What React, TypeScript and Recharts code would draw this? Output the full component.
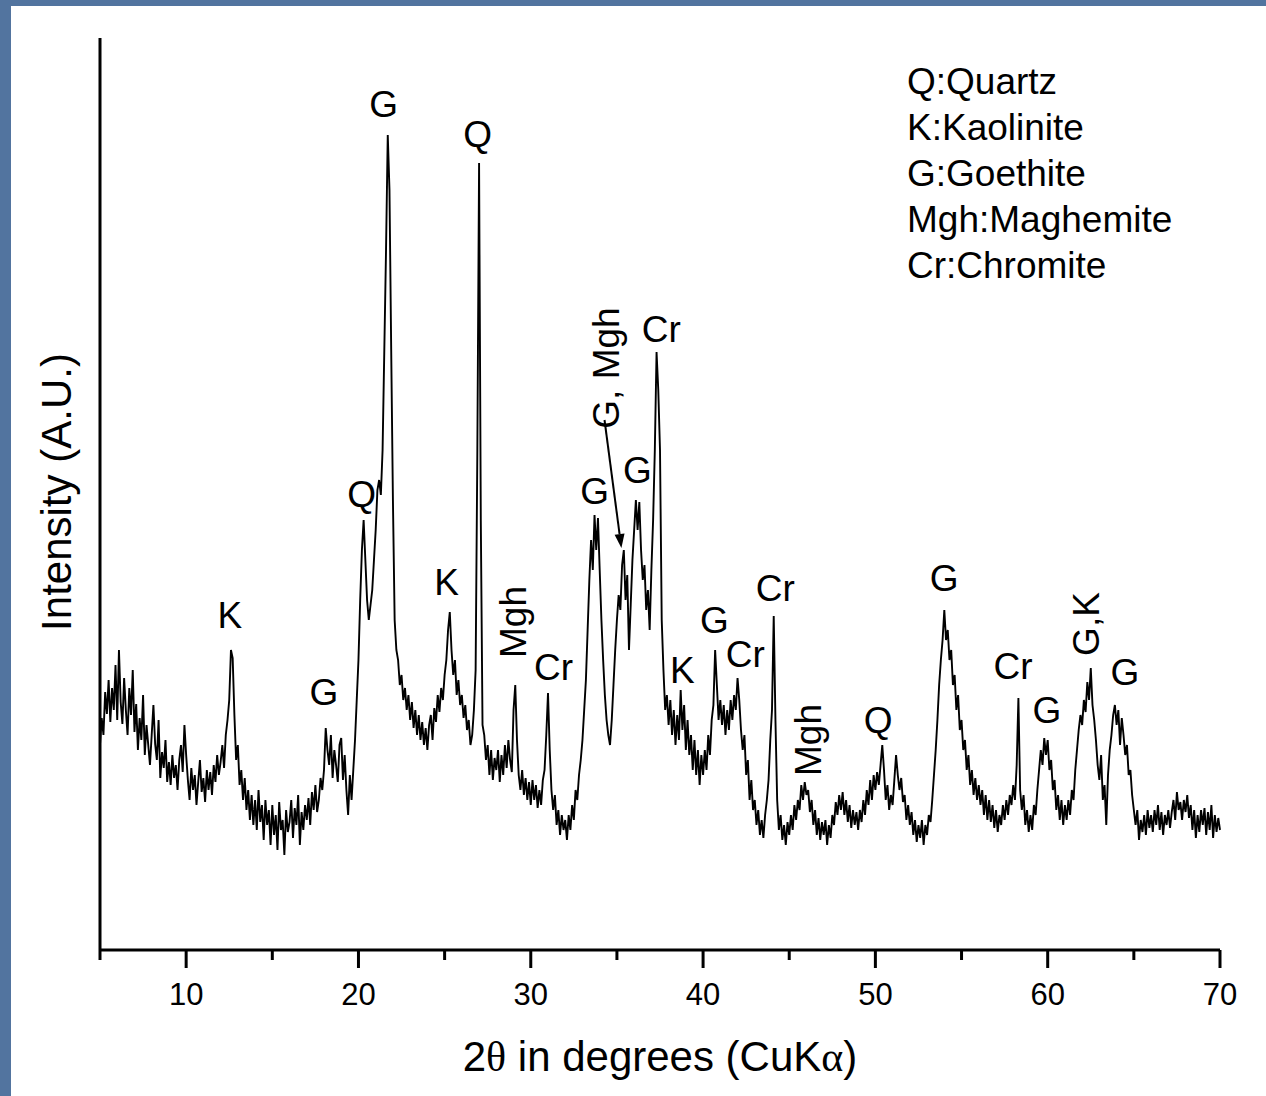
import React from "react";
import { LineChart, Line, XAxis, YAxis, ReferenceDot, ReferenceLine } from "recharts";

// intensity (A.U.) per 0.1 degree step
const SEG_05 = [
  205, 232, 215, 258, 236, 270, 228, 262, 240, 285,
  230, 300, 248, 226, 272, 240, 215, 262, 235, 280,
  218, 246, 200, 232, 210, 255, 195, 225, 205, 185,
  215, 245, 206, 190, 230, 172, 198, 182, 210, 168,
  188, 165, 195, 172, 185, 160, 190, 205, 178, 225,
  195, 170, 150, 182, 160, 175, 145, 168, 190, 158,
  172, 148, 180, 160, 178, 155, 185, 168, 195, 175,
  188, 205, 182, 215, 230, 250, 300, 292, 235, 190,
  205, 165, 180, 150, 172, 140, 160, 130, 155, 125,
  150, 120, 160, 128, 145, 110, 150, 125, 140, 105,
];
const SEG_15 = [
  145, 115, 135, 100, 148, 120, 130, 95, 140, 118,
  128, 150, 112, 142, 125, 155, 105, 138, 120, 145,
  130, 152, 125, 158, 140, 165, 138, 150, 172, 160,
  180, 222, 200, 185, 215, 172, 200, 185, 168, 205,
  212, 170, 195, 160, 135, 175, 150, 180, 210, 250,
  290, 350, 400, 430, 390, 350, 330, 345, 360, 390,
  420, 460, 470, 455, 500, 600, 700, 815, 760, 600,
  450, 330, 300, 290, 265, 275, 250, 262, 240, 255,
  230, 248, 222, 240, 215, 235, 210, 228, 205, 222,
  200, 225, 235, 210, 242, 228, 255, 238, 262, 250,
];
const SEG_25 = [
  275, 290, 320, 338, 300, 275, 290, 255, 270, 245,
  255, 232, 245, 220, 230, 205, 215, 240, 280, 500,
  787, 430, 225, 215, 190, 205, 175, 200, 170, 192,
  180, 200, 168, 195, 175, 205, 182, 210, 190, 178,
  240, 265, 210, 175, 160, 180, 155, 172, 150, 168,
  145, 170, 150, 165, 142, 160, 145, 170, 180, 215,
  257, 200, 160, 140, 155, 125, 140, 115, 135, 120,
  130, 110, 135, 120, 145, 130, 160, 150, 175, 190,
  210, 240, 270, 320, 370, 410, 380, 435, 400, 432,
  380, 330, 290, 255, 230, 215, 205, 230, 265, 300,
];
const SEG_35 = [
  330, 355, 340, 385, 400, 350, 375, 300, 345, 390,
  420, 450, 420, 448, 400, 370, 385, 340, 360, 320,
  380, 430, 500, 598, 560, 500, 330, 280, 240, 255,
  225, 250, 215, 240, 205, 235, 210, 260, 220, 245,
  200, 230, 195, 215, 180, 210, 175, 200, 165, 195,
  175, 200, 180, 215, 195, 230, 245, 300, 265, 230,
  250, 225, 245, 215, 240, 220, 250, 230, 255, 240,
  272, 250, 220, 200, 215, 175, 190, 150, 170, 140,
  150, 125, 140, 115, 130, 112, 135, 150, 170, 210,
  240, 334, 230, 150, 120, 135, 110, 125, 105, 128,
];
const SEG_45 = [
  115, 135, 120, 145, 130, 150, 140, 165, 150, 168,
  155, 160, 138, 150, 125, 140, 115, 132, 110, 128,
  115, 130, 105, 125, 112, 135, 125, 148, 135, 155,
  140, 158, 135, 150, 128, 145, 122, 140, 125, 138,
  120, 140, 128, 150, 135, 160, 145, 170, 150, 175,
  160, 178, 165, 185, 205, 180, 150, 165, 140, 155,
  145, 170, 195, 175, 160, 172, 148, 155, 130, 145,
  125, 138, 115, 130, 108, 125, 112, 130, 105, 125,
  115, 135, 128, 150, 175, 200, 230, 265, 290, 310,
  340, 310, 320, 290, 300, 265, 275, 240, 255, 220,
];
const SEG_55 = [
  230, 200, 210, 180, 195, 165, 180, 155, 172, 150,
  165, 145, 160, 135, 155, 130, 150, 128, 145, 122,
  140, 118, 135, 125, 145, 130, 150, 135, 155, 145,
  165, 150, 185, 252, 160, 140, 155, 125, 140, 118,
  135, 120, 145, 135, 160, 180, 200, 185, 212, 195,
  210, 180, 190, 160, 170, 140, 155, 130, 150, 125,
  145, 130, 150, 135, 160, 150, 180, 200, 220, 235,
  225, 250, 238, 268, 250, 282, 245, 230, 210, 185,
  170, 195, 150, 165, 125, 175, 200, 215, 235, 245,
  225, 240, 205, 232, 215, 195, 205, 175, 180, 155,
];
const SEG_65 = [
  140, 125, 140, 110, 130, 118, 135, 115, 140, 122,
  135, 118, 140, 125, 145, 120, 138, 115, 135, 125,
  140, 122, 138, 150, 130, 158, 140, 148, 130, 150,
  138, 155, 132, 145, 120, 140, 112, 135, 118, 140,
  125, 142, 115, 138, 120, 145, 112, 135, 118, 132,
  120,
];

const SEGMENTS = [
  { start: 5, values: SEG_05 },
  { start: 15, values: SEG_15 },
  { start: 25, values: SEG_25 },
  { start: 35, values: SEG_35 },
  { start: 45, values: SEG_45 },
  { start: 55, values: SEG_55 },
  { start: 65, values: SEG_65 },
];

const X_TICKS = [5, 10, 15, 20, 25, 30, 35, 40, 45, 50, 55, 60, 65, 70];

const LEGEND = ["Q:Quartz", "K:Kaolinite", "G:Goethite", "Mgh:Maghemite", "Cr:Chromite"];

// peak labels: text, 2theta, intensity, vertical?
const PEAK_LABELS: [string, number, number, boolean][] = [
  ["K", 12.54, 335, false],
  ["G", 17.99, 258, false],
  ["Q", 20.19, 456, false],
  ["G", 21.46, 846, false],
  ["K", 25.12, 368, false],
  ["Q", 26.91, 816, false],
  ["Mgh", 28.94, 328, true],
  ["Cr", 31.32, 283, false],
  ["G", 33.7, 459, false],
  ["G, Mgh", 34.33, 582, true],
  ["G", 36.19, 480, false],
  ["Cr", 37.58, 621, false],
  ["K", 38.8, 280, false],
  ["G", 40.65, 330, false],
  ["Cr", 42.45, 296, false],
  ["Cr", 44.19, 362, false],
  ["Mgh", 46.1, 210, true],
  ["Q", 50.16, 230, false],
  ["G", 53.99, 372, false],
  ["Cr", 57.99, 284, false],
  ["G", 59.96, 240, false],
  ["G,K", 62.22, 326, true],
  ["G", 64.48, 278, false],
];

const ARROW_FROM = { x: 34.28, y: 530 };
const ARROW_TO = { x: 35.26, y: 402 };

const FONT = "'Liberation Sans', Arial, sans-serif";

const data = SEGMENTS.flatMap((s) =>
  s.values.map((v, i) => ({ theta: +(s.start + i * 0.1).toFixed(1), intensity: v }))
);

function XTick({ x, y, payload }: any) {
  const v = payload.value;
  const major = v % 10 === 0;
  return (
    <g>
      <line x1={x} x2={x} y1={y} y2={y + (major ? 18 : 10)} stroke="#000" strokeWidth={3} />
      {major && (
        <text x={x} y={y + 55} textAnchor="middle" fontSize={31} fontFamily={FONT} fill="#000">
          {v}
        </text>
      )}
    </g>
  );
}

function Arrow({ x1, y1, x2, y2 }: any) {
  const a = Math.atan2(y2 - y1, x2 - x1);
  const len = 14;
  const w = 5;
  const bx = x2 - len * Math.cos(a);
  const by = y2 - len * Math.sin(a);
  const px = -Math.sin(a) * w;
  const py = Math.cos(a) * w;
  return (
    <g>
      <line x1={x1} y1={y1} x2={bx} y2={by} stroke="#000" strokeWidth={2} />
      <polygon points={`${x2},${y2} ${bx + px},${by + py} ${bx - px},${by - py}`} fill="#000" />
    </g>
  );
}

export default function App() {
  return (
    <div style={{ position: "absolute", left: 0, top: 0, width: 1266, height: 1096, background: "#52749f", overflow: "hidden" }}>
      <div style={{ position: "absolute", left: 11, top: 6, width: 1255, height: 1090, background: "#fff" }} />
      <div style={{ position: "absolute", left: 0, top: 0 }}>
        <LineChart width={1266} height={1096} data={data} margin={{ top: 38, right: 46, bottom: 0, left: 99 }}>
          <XAxis
            dataKey="theta"
            type="number"
            domain={[5, 70]}
            ticks={X_TICKS}
            interval={0}
            height={146}
            tickLine={false}
            tickSize={0}
            tickMargin={0}
            axisLine={{ stroke: "#000", strokeWidth: 3 }}
            tick={<XTick />}
          />
          <YAxis
            type="number"
            domain={[0, 912]}
            width={1}
            tick={false}
            tickLine={false}
            axisLine={{ stroke: "#000", strokeWidth: 3 }}
          />
          <Line
            type="linear"
            dataKey="intensity"
            stroke="#000"
            strokeWidth={1.9}
            strokeLinejoin="miter"
            dot={false}
            isAnimationActive={false}
          />
          <ReferenceLine segment={[ARROW_FROM, ARROW_TO]} shape={(p: any) => <Arrow {...p} />} />
          {PEAK_LABELS.map(([t, x, y, vert], i) => (
            <ReferenceDot
              key={i}
              x={x}
              y={y}
              r={0}
              shape={(p: any) => (
                <text
                  x={p.cx}
                  y={p.cy}
                  dy="0.36em"
                  textAnchor="middle"
                  fontSize={37}
                  fontFamily={FONT}
                  fill="#000"
                  transform={vert ? `rotate(-90 ${p.cx} ${p.cy})` : undefined}
                >
                  {t}
                </text>
              )}
            />
          ))}
        </LineChart>
      </div>
      <div style={{ position: "absolute", left: 907, top: 59, fontFamily: FONT, fontSize: 37, lineHeight: "46px", color: "#000" }}>
        {LEGEND.map((l) => (
          <div key={l}>{l}</div>
        ))}
      </div>
      <div style={{ position: "absolute", left: 360, top: 1032, width: 600, textAlign: "center", fontFamily: FONT, fontSize: 42, lineHeight: "50px", color: "#000" }}>
        2<span style={{ fontFamily: "'Liberation Serif', serif" }}>θ</span> in degrees (CuK<span style={{ fontFamily: "'Liberation Serif', serif" }}>α</span>)
      </div>
      <div style={{ position: "absolute", left: 57 - 200, top: 492 - 25, width: 400, height: 50, lineHeight: "50px", textAlign: "center", fontFamily: FONT, fontSize: 42, color: "#000", transform: "rotate(-90deg)" }}>
        Intensity (A.U.)
      </div>
    </div>
  );
}
